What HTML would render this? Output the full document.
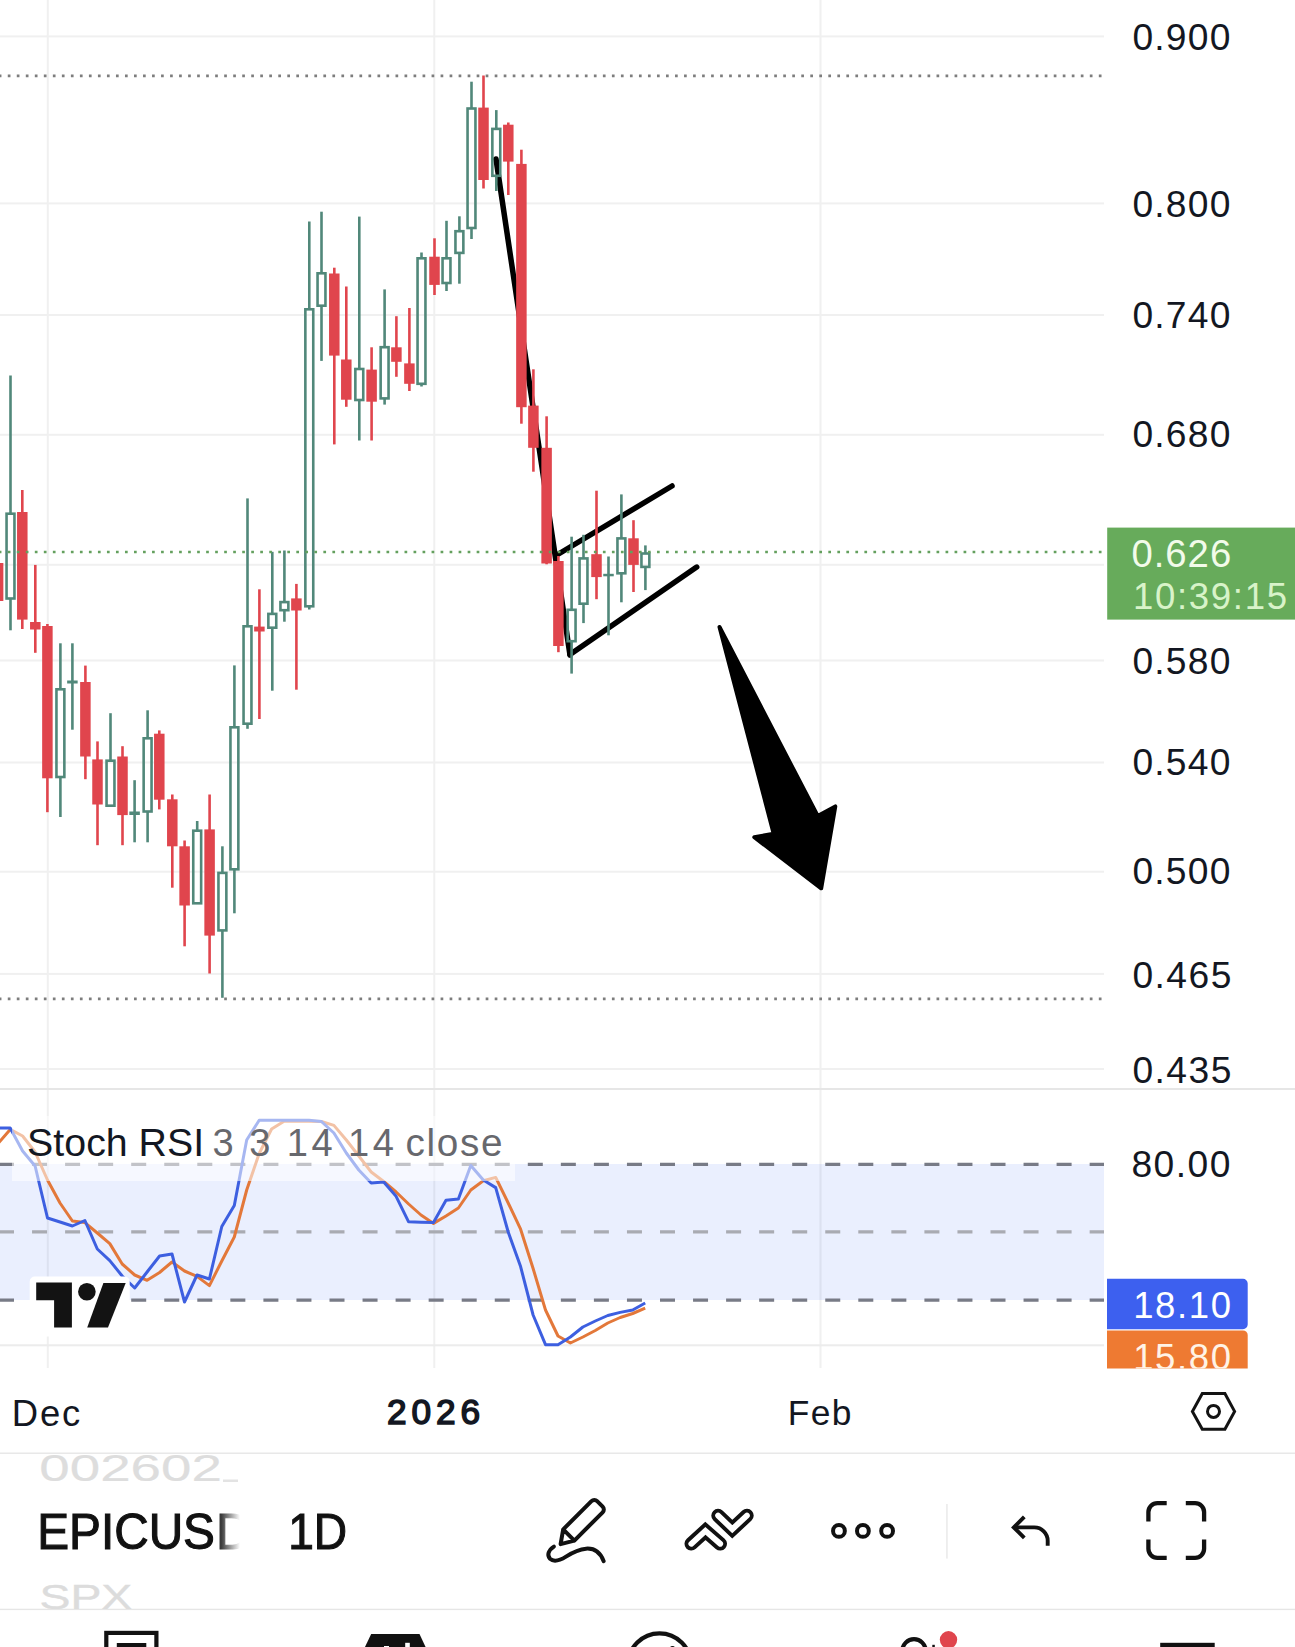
<!DOCTYPE html>
<html><head><meta charset="utf-8"><style>
html,body{margin:0;padding:0;background:#fff;width:1295px;height:1647px;overflow:hidden;position:relative}
</style></head><body>
<svg width="1295" height="1647" viewBox="0 0 1295 1647" style="position:absolute;left:0;top:0">
<defs>
<linearGradient id="fadeD" gradientUnits="userSpaceOnUse" x1="214" x2="240" y1="0" y2="0">
<stop offset="0" stop-color="#111"/><stop offset="0.25" stop-color="#333"/><stop offset="1" stop-color="#fff" stop-opacity="1"/>
</linearGradient>
<clipPath id="mainclip"><rect x="0" y="0" width="1104" height="1088"/></clipPath>
<clipPath id="stochclip"><rect x="0" y="1090" width="1104" height="278"/></clipPath>
</defs>
<rect x="0" y="0" width="1295" height="1647" fill="#fff"/>
<!-- grid -->
<g fill="#f0f0f0">
<rect x="0" y="35.4" width="1104" height="2"/><rect x="0" y="202.4" width="1104" height="2"/><rect x="0" y="314" width="1104" height="2"/><rect x="0" y="433.8" width="1104" height="2"/><rect x="0" y="563.8" width="1104" height="2"/><rect x="0" y="659.5" width="1104" height="2"/><rect x="0" y="761.5" width="1104" height="2"/><rect x="0" y="870.7" width="1104" height="2"/><rect x="0" y="972.9" width="1104" height="2"/><rect x="0" y="1068" width="1104" height="2"/>
<rect x="46.8" y="0" width="2" height="1368"/><rect x="433.3" y="0" width="2" height="1368"/><rect x="819.5" y="0" width="2" height="1368"/>
</g>
<rect x="0" y="1088" width="1295" height="2" fill="#e6e6e6"/>
<rect x="0" y="1344.3" width="1104" height="2" fill="#ececec"/>
<rect x="0" y="1452.5" width="1295" height="1.5" fill="#e8e8e8"/>
<rect x="0" y="1608.7" width="1295" height="1.4" fill="#e6e6e6"/>
<!-- drawings -->
<g stroke="#000" stroke-width="5.5" stroke-linecap="round" fill="none">
<line x1="496" y1="159" x2="570" y2="655"/>
<line x1="556" y1="555.5" x2="672" y2="486"/>
<line x1="570" y1="654.6" x2="696.7" y2="567.1"/>
</g>
<polygon points="719.5,627 817.7,816 835.3,806.4 821.2,888.3 754.3,837.2 773.7,833.7" fill="#000" stroke="#000" stroke-width="4" stroke-linejoin="round"/>
<!-- candles -->
<g clip-path="url(#mainclip)">
<rect x="-3.2" y="545" width="2.6" height="19" fill="#e0454d"/>
<rect x="-3.2" y="600" width="2.6" height="15" fill="#e0454d"/>
<rect x="-7.15" y="563" width="10.5" height="38" fill="#e0454d"/>
<rect x="9.2" y="375.5" width="2.6" height="137.9" fill="#51887a"/>
<rect x="9.2" y="598.8" width="2.6" height="31.5" fill="#51887a"/>
<rect x="6.55" y="513.7" width="7.9" height="84.8" fill="none" stroke="#51887a" stroke-width="2.6"/>
<rect x="21" y="490" width="2.6" height="23" fill="#e0454d"/>
<rect x="21" y="618.6" width="2.6" height="10.4" fill="#e0454d"/>
<rect x="17.05" y="512" width="10.5" height="107.6" fill="#e0454d"/>
<rect x="34" y="564.9" width="2.6" height="58.1" fill="#e0454d"/>
<rect x="34" y="628.5" width="2.6" height="24.3" fill="#e0454d"/>
<rect x="30.05" y="622" width="10.5" height="7.5" fill="#e0454d"/>
<rect x="46.1" y="624" width="2.6" height="3" fill="#e0454d"/>
<rect x="46.1" y="777.3" width="2.6" height="34.9" fill="#e0454d"/>
<rect x="42.15" y="626" width="10.5" height="152.3" fill="#e0454d"/>
<rect x="59.1" y="643.3" width="2.6" height="45.7" fill="#51887a"/>
<rect x="59.1" y="777.3" width="2.6" height="39.7" fill="#51887a"/>
<rect x="56.45" y="689.3" width="7.9" height="87.7" fill="none" stroke="#51887a" stroke-width="2.6"/>
<rect x="71.1" y="643.3" width="2.6" height="38.2" fill="#51887a"/>
<rect x="71.1" y="682.5" width="2.6" height="47.2" fill="#51887a"/>
<rect x="67.15" y="680.5" width="10.5" height="3" fill="#51887a"/>
<rect x="84.1" y="665.6" width="2.6" height="17.4" fill="#e0454d"/>
<rect x="84.1" y="755.5" width="2.6" height="23.7" fill="#e0454d"/>
<rect x="80.15" y="682" width="10.5" height="74.5" fill="#e0454d"/>
<rect x="96.2" y="741.4" width="2.6" height="19" fill="#e0454d"/>
<rect x="96.2" y="803.5" width="2.6" height="41.7" fill="#e0454d"/>
<rect x="92.25" y="759.4" width="10.5" height="45.1" fill="#e0454d"/>
<rect x="109.2" y="713.2" width="2.6" height="47.2" fill="#51887a"/>
<rect x="106.55" y="760.7" width="7.9" height="45" fill="none" stroke="#51887a" stroke-width="2.6"/>
<rect x="121.2" y="746.2" width="2.6" height="11.3" fill="#e0454d"/>
<rect x="121.2" y="814.1" width="2.6" height="31.1" fill="#e0454d"/>
<rect x="117.25" y="756.5" width="10.5" height="58.6" fill="#e0454d"/>
<rect x="133.3" y="780.2" width="2.6" height="32.3" fill="#51887a"/>
<rect x="133.3" y="814" width="2.6" height="28.3" fill="#51887a"/>
<rect x="129.35" y="811.5" width="10.5" height="3.5" fill="#51887a"/>
<rect x="146.3" y="710.3" width="2.6" height="27.7" fill="#51887a"/>
<rect x="146.3" y="811.8" width="2.6" height="30.5" fill="#51887a"/>
<rect x="143.65" y="738.3" width="7.9" height="73.2" fill="none" stroke="#51887a" stroke-width="2.6"/>
<rect x="158" y="730.4" width="2.6" height="4.3" fill="#e0454d"/>
<rect x="158" y="798.7" width="2.6" height="10.7" fill="#e0454d"/>
<rect x="154.05" y="733.7" width="10.5" height="66" fill="#e0454d"/>
<rect x="171" y="794.5" width="2.6" height="5.8" fill="#e0454d"/>
<rect x="171" y="845.3" width="2.6" height="42.4" fill="#e0454d"/>
<rect x="167.05" y="799.3" width="10.5" height="47" fill="#e0454d"/>
<rect x="183.3" y="840.5" width="2.6" height="6.8" fill="#e0454d"/>
<rect x="183.3" y="904.5" width="2.6" height="41.8" fill="#e0454d"/>
<rect x="179.35" y="846.3" width="10.5" height="59.2" fill="#e0454d"/>
<rect x="195.9" y="821" width="2.6" height="9.4" fill="#51887a"/>
<rect x="193.25" y="830.7" width="7.9" height="72.6" fill="none" stroke="#51887a" stroke-width="2.6"/>
<rect x="208.3" y="794.5" width="2.6" height="35.9" fill="#e0454d"/>
<rect x="208.3" y="934.6" width="2.6" height="38.9" fill="#e0454d"/>
<rect x="204.35" y="829.4" width="10.5" height="106.2" fill="#e0454d"/>
<rect x="221.1" y="846.3" width="2.6" height="26.3" fill="#51887a"/>
<rect x="221.1" y="930.7" width="2.6" height="67.1" fill="#51887a"/>
<rect x="218.45" y="872.9" width="7.9" height="57.5" fill="none" stroke="#51887a" stroke-width="2.6"/>
<rect x="233.1" y="665.4" width="2.6" height="61.6" fill="#51887a"/>
<rect x="233.1" y="869.6" width="2.6" height="43.7" fill="#51887a"/>
<rect x="230.45" y="727.3" width="7.9" height="142" fill="none" stroke="#51887a" stroke-width="2.6"/>
<rect x="246.2" y="498.4" width="2.6" height="127.6" fill="#51887a"/>
<rect x="246.2" y="724" width="2.6" height="4.8" fill="#51887a"/>
<rect x="243.55" y="626.3" width="7.9" height="97.4" fill="none" stroke="#51887a" stroke-width="2.6"/>
<rect x="258.1" y="589.3" width="2.6" height="38.3" fill="#e0454d"/>
<rect x="258.1" y="630.5" width="2.6" height="88.5" fill="#e0454d"/>
<rect x="254.15" y="626.6" width="10.5" height="4.9" fill="#e0454d"/>
<rect x="271" y="551.8" width="2.6" height="61.8" fill="#51887a"/>
<rect x="271" y="628" width="2.6" height="62.7" fill="#51887a"/>
<rect x="268.35" y="613.9" width="7.9" height="13.8" fill="none" stroke="#51887a" stroke-width="2.6"/>
<rect x="283.1" y="550.5" width="2.6" height="51.3" fill="#51887a"/>
<rect x="283.1" y="610.5" width="2.6" height="11.2" fill="#51887a"/>
<rect x="280.45" y="602.1" width="7.9" height="8.1" fill="none" stroke="#51887a" stroke-width="2.6"/>
<rect x="295.1" y="583.9" width="2.6" height="15.5" fill="#e0454d"/>
<rect x="295.1" y="609.5" width="2.6" height="80.2" fill="#e0454d"/>
<rect x="291.15" y="598.4" width="10.5" height="12.1" fill="#e0454d"/>
<rect x="308" y="221.5" width="2.6" height="87.5" fill="#51887a"/>
<rect x="308" y="606.6" width="2.6" height="2.9" fill="#51887a"/>
<rect x="305.35" y="309.3" width="7.9" height="297" fill="none" stroke="#51887a" stroke-width="2.6"/>
<rect x="320.2" y="211.7" width="2.6" height="61.3" fill="#51887a"/>
<rect x="320.2" y="306" width="2.6" height="54.9" fill="#51887a"/>
<rect x="317.55" y="273.3" width="7.9" height="32.4" fill="none" stroke="#51887a" stroke-width="2.6"/>
<rect x="333" y="267.7" width="2.6" height="6.8" fill="#e0454d"/>
<rect x="333" y="354.6" width="2.6" height="89.8" fill="#e0454d"/>
<rect x="329.05" y="273.5" width="10.5" height="82.1" fill="#e0454d"/>
<rect x="345" y="286.5" width="2.6" height="74" fill="#e0454d"/>
<rect x="345" y="398.7" width="2.6" height="8.1" fill="#e0454d"/>
<rect x="341.05" y="359.5" width="10.5" height="40.2" fill="#e0454d"/>
<rect x="358" y="216.6" width="2.6" height="152.1" fill="#51887a"/>
<rect x="358" y="400.3" width="2.6" height="40.2" fill="#51887a"/>
<rect x="355.35" y="369" width="7.9" height="31" fill="none" stroke="#51887a" stroke-width="2.6"/>
<rect x="370.3" y="347.3" width="2.6" height="23.3" fill="#e0454d"/>
<rect x="370.3" y="400.7" width="2.6" height="39.8" fill="#e0454d"/>
<rect x="366.35" y="369.6" width="10.5" height="32.1" fill="#e0454d"/>
<rect x="383.3" y="289.4" width="2.6" height="57.5" fill="#51887a"/>
<rect x="383.3" y="398.7" width="2.6" height="5.9" fill="#51887a"/>
<rect x="380.65" y="347.2" width="7.9" height="51.2" fill="none" stroke="#51887a" stroke-width="2.6"/>
<rect x="395.1" y="316.2" width="2.6" height="32.1" fill="#e0454d"/>
<rect x="395.1" y="360.8" width="2.6" height="16" fill="#e0454d"/>
<rect x="391.15" y="347.3" width="10.5" height="14.5" fill="#e0454d"/>
<rect x="408.1" y="308" width="2.6" height="56.4" fill="#e0454d"/>
<rect x="408.1" y="382.8" width="2.6" height="8.2" fill="#e0454d"/>
<rect x="404.15" y="363.4" width="10.5" height="20.4" fill="#e0454d"/>
<rect x="420.2" y="252.5" width="2.6" height="5.5" fill="#51887a"/>
<rect x="420.2" y="384.1" width="2.6" height="2.4" fill="#51887a"/>
<rect x="417.55" y="258.3" width="7.9" height="125.5" fill="none" stroke="#51887a" stroke-width="2.6"/>
<rect x="433.2" y="238.3" width="2.6" height="19.4" fill="#e0454d"/>
<rect x="433.2" y="283.9" width="2.6" height="11.1" fill="#e0454d"/>
<rect x="429.25" y="256.7" width="10.5" height="28.2" fill="#e0454d"/>
<rect x="445.2" y="220.8" width="2.6" height="37.2" fill="#51887a"/>
<rect x="445.2" y="283.3" width="2.6" height="7.7" fill="#51887a"/>
<rect x="442.55" y="258.3" width="7.9" height="24.7" fill="none" stroke="#51887a" stroke-width="2.6"/>
<rect x="458.1" y="216.3" width="2.6" height="14.6" fill="#51887a"/>
<rect x="458.1" y="253.2" width="2.6" height="30.5" fill="#51887a"/>
<rect x="455.45" y="231.2" width="7.9" height="21.7" fill="none" stroke="#51887a" stroke-width="2.6"/>
<rect x="470.2" y="81.7" width="2.6" height="26.5" fill="#51887a"/>
<rect x="470.2" y="228.3" width="2.6" height="10.7" fill="#51887a"/>
<rect x="467.55" y="108.5" width="7.9" height="119.5" fill="none" stroke="#51887a" stroke-width="2.6"/>
<rect x="482.2" y="75.5" width="2.6" height="33.1" fill="#e0454d"/>
<rect x="482.2" y="179" width="2.6" height="9.5" fill="#e0454d"/>
<rect x="478.25" y="107.6" width="10.5" height="72.4" fill="#e0454d"/>
<rect x="495" y="110.1" width="2.6" height="18.5" fill="#51887a"/>
<rect x="495" y="176.1" width="2.6" height="14.9" fill="#51887a"/>
<rect x="492.35" y="128.9" width="7.9" height="46.9" fill="none" stroke="#51887a" stroke-width="2.6"/>
<rect x="507" y="122.5" width="2.6" height="3.2" fill="#e0454d"/>
<rect x="507" y="160.6" width="2.6" height="34.4" fill="#e0454d"/>
<rect x="503.05" y="124.7" width="10.5" height="36.9" fill="#e0454d"/>
<rect x="520.1" y="149.7" width="2.6" height="15.2" fill="#e0454d"/>
<rect x="520.1" y="406.2" width="2.6" height="17.5" fill="#e0454d"/>
<rect x="516.15" y="163.9" width="10.5" height="243.3" fill="#e0454d"/>
<rect x="532.1" y="369.3" width="2.6" height="37.3" fill="#e0454d"/>
<rect x="532.1" y="446.8" width="2.6" height="24.9" fill="#e0454d"/>
<rect x="528.15" y="405.6" width="10.5" height="42.2" fill="#e0454d"/>
<rect x="545.3" y="416.3" width="2.6" height="32.5" fill="#e0454d"/>
<rect x="545.3" y="562.5" width="2.6" height="1.8" fill="#e0454d"/>
<rect x="541.35" y="447.8" width="10.5" height="115.7" fill="#e0454d"/>
<rect x="557.1" y="556" width="2.6" height="6" fill="#e0454d"/>
<rect x="557.1" y="645" width="2.6" height="7.2" fill="#e0454d"/>
<rect x="553.15" y="561" width="10.5" height="85" fill="#e0454d"/>
<rect x="570.3" y="536.7" width="2.6" height="72.8" fill="#51887a"/>
<rect x="570.3" y="641.5" width="2.6" height="32.1" fill="#51887a"/>
<rect x="567.65" y="609.8" width="7.9" height="31.4" fill="none" stroke="#51887a" stroke-width="2.6"/>
<rect x="582.2" y="534.8" width="2.6" height="23.3" fill="#51887a"/>
<rect x="582.2" y="604" width="2.6" height="19.1" fill="#51887a"/>
<rect x="579.55" y="558.4" width="7.9" height="45.3" fill="none" stroke="#51887a" stroke-width="2.6"/>
<rect x="595.2" y="490.7" width="2.6" height="64.5" fill="#e0454d"/>
<rect x="595.2" y="576.1" width="2.6" height="23.1" fill="#e0454d"/>
<rect x="591.25" y="554.2" width="10.5" height="22.9" fill="#e0454d"/>
<rect x="607.2" y="556.5" width="2.6" height="18.3" fill="#51887a"/>
<rect x="607.2" y="575.3" width="2.6" height="60" fill="#51887a"/>
<rect x="603.25" y="573.8" width="10.5" height="2.5" fill="#51887a"/>
<rect x="620.1" y="494.4" width="2.6" height="43.7" fill="#51887a"/>
<rect x="620.1" y="573.6" width="2.6" height="28.7" fill="#51887a"/>
<rect x="617.45" y="538.4" width="7.9" height="34.9" fill="none" stroke="#51887a" stroke-width="2.6"/>
<rect x="632.2" y="520.2" width="2.6" height="19.1" fill="#e0454d"/>
<rect x="632.2" y="563.9" width="2.6" height="28.1" fill="#e0454d"/>
<rect x="628.25" y="538.3" width="10.5" height="26.6" fill="#e0454d"/>
<rect x="644.1" y="545.4" width="2.6" height="7.8" fill="#51887a"/>
<rect x="644.1" y="567.2" width="2.6" height="22.9" fill="#51887a"/>
<rect x="641.45" y="553.5" width="7.9" height="13.4" fill="none" stroke="#51887a" stroke-width="2.6"/>
</g>
<!-- dotted lines -->
<line x1="0" y1="75.9" x2="1104" y2="75.9" stroke="#7d7d7d" stroke-width="2.7" stroke-dasharray="2.7 6.317" stroke-dashoffset="1.25"/>
<line x1="0" y1="998.8" x2="1104" y2="998.8" stroke="#7d7d7d" stroke-width="2.7" stroke-dasharray="2.7 6.317" stroke-dashoffset="1.25"/>
<line x1="0" y1="552" x2="1104" y2="552" stroke="#64a05e" stroke-width="2.7" stroke-dasharray="2.7 6.317" stroke-dashoffset="1.25"/>
<!-- stoch pane -->
<rect x="0" y="1164" width="1104" height="136" fill="#2f63f5" fill-opacity="0.1"/>
<g stroke-width="3.2" stroke-dasharray="15 18.05" stroke-dashoffset="1">
<line x1="0" y1="1164.3" x2="1104" y2="1164.3" stroke="#787b86"/>
<line x1="0" y1="1231.8" x2="1104" y2="1231.8" stroke="#a9abb2"/>
<line x1="0" y1="1300.2" x2="1104" y2="1300.2" stroke="#787b86"/>
</g>
<g clip-path="url(#stochclip)" fill="none" stroke-width="3" stroke-linejoin="round">
<polyline points="-5,1147 10.2,1129.4 22.6,1136 35.1,1152 47.5,1180 60,1203 72.4,1221 84.9,1222.6 97.3,1233 109.8,1243.6 122.2,1264 134.7,1275 147.1,1280.3 159.6,1272.5 172,1262 184.5,1271 197,1276.4 209.4,1285.6 221.8,1261 234.3,1237 246.7,1190 259.2,1153.5 271.6,1129 284.1,1121.2 296.5,1121.2 309,1121.2 321.4,1121.5 333.9,1125.4 346.3,1140 358.8,1156 371.2,1172 383.7,1181.5 396.1,1192 408.6,1204 421,1215 433.5,1223.4 446,1216 458.4,1208 470.8,1190 483.3,1180.8 495.7,1177.4 508.2,1203 520.6,1229.2 533.1,1268.5 545.5,1310 558,1336 570.4,1343 582.9,1337 595.3,1330.5 607.8,1323 620.2,1317.5 632.7,1313.5 645.2,1308.2" stroke="#e3783a"/>
<polyline points="-5,1128 10.2,1128 22.6,1151 35.1,1166 47.5,1218 60,1222 72.4,1226 84.9,1220.5 97.3,1249 109.8,1260.6 122.2,1276 134.7,1288 147.1,1272 159.6,1256 172,1254 184.5,1302 197,1275 209.4,1279 221.8,1226.5 234.3,1205.5 246.7,1140 259.2,1120.2 271.6,1120.2 284.1,1120.2 296.5,1120.2 309,1120.2 321.4,1121.5 333.9,1133 346.3,1153 358.8,1170 371.2,1183 383.7,1182 396.1,1196.3 408.6,1221.8 421,1222.2 433.5,1222.6 446,1200.3 458.4,1199 470.8,1165.5 483.3,1180 495.7,1187.6 508.2,1232 520.6,1266.6 533.1,1315 545.5,1344.7 558,1344.7 570.4,1337 582.9,1327 595.3,1321 607.8,1315.5 620.2,1312.4 632.7,1310 645.2,1303" stroke="#3d5fe0"/>
</g>
<rect x="12" y="1116" width="503" height="65" fill="#fff" fill-opacity="0.55"/>
<!-- TV logo -->
<rect x="29.7" y="1276.6" width="100" height="60" rx="5" fill="#fff"/>
<g fill="#131313">
<path d="M36.2,1282.6 H71.9 V1327.6 H54.1 V1300.2 H36.2 Z"/>
<circle cx="86.9" cy="1291.7" r="8.8"/>
<path d="M103.4,1283.1 H125.7 L108,1327.6 H87.2 Z"/>
</g>
<rect x="1107.2" y="527.6" width="187.8" height="92" fill="#67ab5b"/>
<path d="M1107,1278.8 H1243 A4.7,4.7 0 0 1 1247.7,1283.5 V1324.5 A4.7,4.7 0 0 1 1243,1329.2 H1107 Z" fill="#3d60ef"/>
<path d="M1107,1330.4 H1243 A4.7,4.7 0 0 1 1247.7,1335.1 V1368.6 H1107 Z" fill="#ee7a32"/>
<clipPath id="lblclip"><rect x="1107" y="1278" width="141" height="90.6"/></clipPath>
<g font-family="Liberation Sans, sans-serif"><text x="1132.4" y="50" font-size="37.21" fill="#131722" textLength="98" lengthAdjust="spacing">0.900</text>
<text x="1132.4" y="217" font-size="37.21" fill="#131722" textLength="98" lengthAdjust="spacing">0.800</text>
<text x="1132.4" y="327.7" font-size="37.21" fill="#131722" textLength="98" lengthAdjust="spacing">0.740</text>
<text x="1132.4" y="447.4" font-size="37.21" fill="#131722" textLength="98" lengthAdjust="spacing">0.680</text>
<text x="1132.4" y="673.7" font-size="37.21" fill="#131722" textLength="98" lengthAdjust="spacing">0.580</text>
<text x="1132.4" y="775" font-size="37.21" fill="#131722" textLength="98" lengthAdjust="spacing">0.540</text>
<text x="1132.4" y="884.4" font-size="37.21" fill="#131722" textLength="98" lengthAdjust="spacing">0.500</text>
<text x="1132.4" y="987.9" font-size="37.21" fill="#131722" textLength="99" lengthAdjust="spacing">0.465</text>
<text x="1132.4" y="1082.6" font-size="37.21" fill="#131722" textLength="99" lengthAdjust="spacing">0.435</text>
<text x="1131.4" y="1177.3" font-size="37.21" fill="#131722" textLength="99" lengthAdjust="spacing">80.00</text>
<text x="1131.4" y="566.8" font-size="38.29" fill="#f2fbea" textLength="99.8" lengthAdjust="spacing">0.626</text>
<text x="1133" y="608.6" font-size="36.57" fill="#d8f3c9" textLength="154" lengthAdjust="spacing">10:39:15</text>
<text x="1133.2" y="1317.6" font-size="36.5" fill="#ffffff" textLength="97.8" lengthAdjust="spacing" clip-path="url(#lblclip)">18.10</text>
<text x="1133.2" y="1369.5" font-size="36.5" fill="#fff3e6" textLength="97.8" lengthAdjust="spacing" clip-path="url(#lblclip)">15.80</text>
<text x="11.8" y="1425.6" font-size="36.46" fill="#131722" textLength="68.4" lengthAdjust="spacing">Dec</text>
<text x="387.1" y="1423.6" font-size="35.25" fill="#131722" stroke="#131722" stroke-width="1.5" textLength="92.9" lengthAdjust="spacing">2026</text>
<text x="787.8" y="1425" font-size="35.33" fill="#131722" textLength="63.6" lengthAdjust="spacing">Feb</text>
<text x="27.1" y="1155.6" font-size="38.5" fill="#131722" textLength="177.1" lengthAdjust="spacingAndGlyphs">Stoch RSI</text>
<text x="212.4" y="1155.6" font-size="38.09" fill="#67686d">3</text>
<text x="249.2" y="1155.6" font-size="38.09" fill="#67686d">3</text>
<text x="286.8" y="1155.6" font-size="38.09" fill="#67686d" textLength="46" lengthAdjust="spacing">14</text>
<text x="348" y="1155.6" font-size="38.09" fill="#67686d" textLength="46" lengthAdjust="spacing">14</text>
<text x="405.4" y="1155.6" font-size="38.73" fill="#67686d" textLength="97.2" lengthAdjust="spacing">close</text>
<text x="37.2" y="1549.4" font-size="50" fill="#111111" stroke="#111" stroke-width="1.1" textLength="177.8" lengthAdjust="spacingAndGlyphs">EPICUS</text>
<text x="288.2" y="1549.4" font-size="50" fill="#111111" stroke="#111" stroke-width="1.1" textLength="59" lengthAdjust="spacingAndGlyphs">1D</text>
<text x="39.3" y="1480.6" font-size="36" fill="#dddddd" stroke="#dddddd" stroke-width="0.2" textLength="182.6" lengthAdjust="spacingAndGlyphs" clip-path="url(#symclip)">002602</text>
<text x="39.5" y="1608.5" font-size="35" fill="#dcdcdc" stroke="#dcdcdc" stroke-width="0.4" textLength="92.8" lengthAdjust="spacingAndGlyphs" clip-path="url(#symclip)">SPX</text></g>
<!-- hexagon icon -->
<g fill="none" stroke="#131313" stroke-width="3" stroke-linejoin="miter">
<path d="M1202.3,1393.5 H1224.9 L1234.6,1411.4 L1224.9,1429.3 H1202.3 L1192.4,1411.4 Z"/>
<circle cx="1213.5" cy="1411.4" r="6"/>
</g>

<!-- bottom bar -->
<clipPath id="symclip"><rect x="0" y="1454.3" width="600" height="154.6"/></clipPath>
<rect x="223" y="1479.5" width="15" height="2.5" fill="#e3e3e3"/>
<g font-family="Liberation Sans, sans-serif" font-size="50" fill="url(#fadeD)" stroke="url(#fadeD)" stroke-width="1.1"><text x="216.00000000000023" y="1549.4000000000005">D</text></g>
<!-- toolbar icons -->
<g fill="none" stroke="#111" stroke-width="4" stroke-linejoin="round" stroke-linecap="round">
<path d="M563.20,1529.40 L591.48,1501.12 A4,4 0 0 1 597.14,1501.12 L602.66,1506.63 A4,4 0 0 1 602.66,1512.29 L574.37,1540.57 L560.60,1544.10 Z M563.20,1529.40 L574.37,1540.57"/>
<path d="M553.9,1546.6 C548.5,1550 546.6,1555.5 550,1558.8 C553.6,1562 559,1561 566,1556.6 C577,1549.5 596,1541 603.7,1561.2"/>
</g>
<path d="M691.3,1543.8 L705.4,1530.9 L720.2,1543.8 M718.1,1515.6 L732.3,1529.2 L746.9,1515.6" fill="none" stroke="#111" stroke-width="13.6" stroke-linecap="round" stroke-linejoin="miter"/>
<path d="M691.3,1543.8 L705.4,1530.9 L720.2,1543.8 M718.1,1515.6 L732.3,1529.2 L746.9,1515.6" fill="none" stroke="#fff" stroke-width="5.8" stroke-linecap="round" stroke-linejoin="miter"/>
<g fill="none" stroke="#111" stroke-width="3.9" stroke-linecap="butt" stroke-linejoin="miter">
<path d="M1024.3,1516.9 L1013.8,1527.4 L1024.3,1537.9"/>
<path d="M1014.5,1527.4 H1034.3 A13.4,13.4 0 0 1 1047.7,1540.8 V1545.8"/>
</g>
<g fill="none" stroke="#111" stroke-width="4.3" stroke-linecap="butt">
<path d="M1166.7,1503.1 H1157.4 A9,9 0 0 0 1148.4,1512.1 V1521.6"/>
<path d="M1185.8,1503.1 H1195.1 A9,9 0 0 1 1204.1,1512.1 V1521.6"/>
<path d="M1166.7,1557.8 H1157.4 A9,9 0 0 1 1148.4,1548.8 V1539.5"/>
<path d="M1185.8,1557.8 H1195.1 A9,9 0 0 0 1204.1,1548.8 V1539.5"/>
</g>
<g fill="none" stroke="#111" stroke-width="4">
<circle cx="838.95" cy="1530.9" r="5.9"/>
<circle cx="862.9" cy="1530.9" r="5.9"/>
<circle cx="887.1" cy="1530.9" r="5.9"/>
</g>
<rect x="946.3" y="1504" width="1.3" height="54.6" fill="#e6e6e6"/>
<!-- bottom nav (cropped) -->
<g fill="none" stroke="#111" stroke-width="4.2">
<rect x="106.3" y="1632.9" width="50.1" height="40"/>
<circle cx="659.5" cy="1664.7" r="31.4"/>
<circle cx="914" cy="1650.9" r="11.7"/>
</g>
<rect x="116.8" y="1643" width="29.5" height="10" fill="#111"/>
<path d="M371.2,1634.1 H419.5 L427,1650 H363.5 Z" fill="#111"/>
<rect x="384" y="1646" width="5" height="3" fill="#fff"/>
<rect x="405.2" y="1642.8" width="4.6" height="6" fill="#fff"/>
<circle cx="672.5" cy="1648.5" r="2.6" fill="#111"/>
<rect x="932.3" y="1644.8" width="2.5" height="3" fill="#111"/>
<rect x="1160.2" y="1642.8" width="54.5" height="5" fill="#111"/>
<circle cx="948.5" cy="1639.8" r="8.7" fill="#e0454d"/>
</svg>
</body></html>
